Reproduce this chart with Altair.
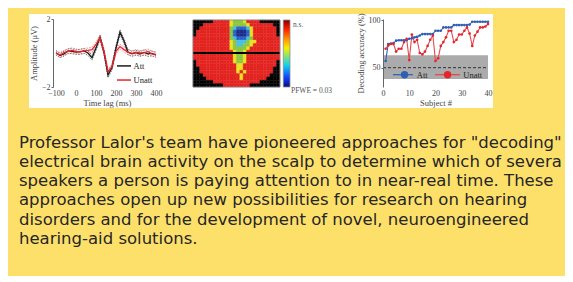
import altair as alt
import pandas as pd

# ------------------------------------------------------------------ data
# Panel 1: ERP (temporal response function) for attended / unattended speech
time_ms = [-100, -80, -60, -40, -20, 0, 20, 40, 60, 80, 100, 120, 140, 160,
           180, 200, 220, 240, 260, 280, 300, 320, 340, 360, 380, 400]
time_ticks = [-100, 0, 100, 200, 300, 400]
att_mean = [0.02, -0.15, -0.05, 0.12, 0.10, 0.05, 0.08, 0.12, 0.00, -0.28, 0.30, 0.92, 0.05,
            -1.30, -0.85, 0.30, 1.22, 0.70, 0.05, -0.05, 0.02, -0.06, 0.03, -0.05, -0.02, -0.12]
att_upper = [0.14, -0.02, 0.10, 0.25, 0.24, 0.18, 0.22, 0.26, 0.14, -0.14, 0.45, 1.06, 0.20,
             -1.15, -0.70, 0.45, 1.36, 0.85, 0.20, 0.10, 0.16, 0.08, 0.18, 0.10, 0.12, 0.02]
att_lower = [-0.10, -0.28, -0.18, -0.02, -0.04, -0.08, -0.06, -0.02, -0.14, -0.42, 0.15, 0.78, -0.10,
             -1.45, -1.00, 0.15, 1.08, 0.55, -0.10, -0.20, -0.12, -0.20, -0.12, -0.20, -0.16, -0.26]
unatt_mean = [0.00, -0.12, 0.02, 0.10, 0.15, 0.10, 0.05, 0.12, 0.15, 0.20, 0.50, 0.90, 0.10,
              -1.10, -0.80, 0.10, 0.38, 0.20, 0.05, -0.02, 0.05, 0.00, 0.02, 0.08, -0.05, -0.08]
unatt_upper = [0.13, 0.02, 0.16, 0.24, 0.30, 0.24, 0.19, 0.27, 0.29, 0.34, 0.64, 1.04, 0.25,
               -0.96, -0.66, 0.25, 0.52, 0.35, 0.20, 0.13, 0.20, 0.14, 0.17, 0.24, 0.10, 0.06]
unatt_lower = [-0.13, -0.26, -0.12, -0.04, 0.01, -0.04, -0.09, -0.03, 0.01, 0.06, 0.36, 0.76, -0.05,
               -1.24, -0.94, -0.05, 0.24, 0.05, -0.10, -0.17, -0.10, -0.14, -0.13, -0.08, -0.20, -0.22]
conditions = ["Att", "Unatt"]

# Panel 2: scalp topography (level codes per cell, '.' = outside the head map)
topo_rows = [
    "......RRRRRYGGGYRRRR......",
    "...RRRRRRRRYGGGGYRRRRRRR..",
    "..RRRRRRRRRGCBBBCYRRRRRRR.",
    ".RRRRRRRRRRGBDDDBYRRRRRRR.",
    ".RRRRRRRRRRGBDDDBYRRRRRRR.",
    "RRRRRRRRRRRGCBBBCGRRRRRRRR",
    "RRRRRRRRRRRYGCCCGYYRRRRRRR",
    "RRRRRRRRRRRYGCCGGYRRRRRRRR",
    "RRRRRRRRRRRYGGGGYRRRRRRRRR",
    "RRRRRRRRRRRRYGGYRRRRRRRRRR",
    "RRRRRRRRRRRRYGGYRRRRRRRRRR",
    "RRRRRRRRRRRRYGGYRRRRRRRRRR",
    ".RRRRRRRRRRRYGGYRRRRRRRRR.",
    ".RRRRRRRRRRRRYYRRRRRRRRRR.",
    "..RRRRRRRRRRRYYRRRRRRRRR..",
    "..RRRRRRRRRRRYRYRRRRRRRR..",
    "...RRRRRRRRRRRYRRRRRRRR...",
    "....RRRRRRRRRRYRRRRRRR....",
    "......RRRRRRRRRRRRRR......",
    ".........RRRRRRRR.........",
]
topo_levels = [".", "R", "Y", "G", "C", "B", "D"]
hemisphere_split = [9.85]
colorbar_labels = ["n.s.", "PFWE = 0.03"]

# Panel 3: decoding accuracy per subject
subjects = list(range(1, 41))
att_acc = [57, 75, 75.5, 76, 78.5, 79, 79, 79, 79, 80.5, 81, 82, 82.5, 84, 85.5, 85.5, 85.5,
           85.5, 85.5, 89, 89, 89, 92.5, 92.5, 92.5, 92.5, 95, 95, 95, 95, 95, 95, 95.5,
           98.5, 98.5, 98.5, 98.5, 98.5, 98.5, 98.5]
unatt_acc = [70, 73.5, 75, 75, 67, 70, 70, 77, 80.5, 58, 85, 77, 79.5, 65.5, 64, 67, 73, 79.5,
             84, 57, 60, 73, 77, 82, 89, 89, 77, 79.5, 85, 85, 89, 92.5, 86, 73, 84, 88,
             92.5, 92.5, 93.5, 96]
chance_band = [38, 63]
chance_level = [50]
acc_ticks = [50, 100]
subject_ticks = [0, 10, 20, 30, 40]

# Paragraph
paragraph_lines = [
    "Professor Lalor's team have pioneered approaches for \"decoding\"",
    "electrical brain activity on the scalp to determine which of several",
    "speakers a person is paying attention to in near-real time. These",
    "approaches open up new possibilities for research on hearing",
    "disorders and for the development of novel, neuroengineered",
    "hearing-aid solutions.",
]

# ------------------------------------------------------------------ styles / legend layout
YELLOW = "#FDE06A"
SERIF = "Liberation Serif"
AXC = "#444444"
# legend placement inside each panel (in that panel's data units)
ERP_LEGEND = {"x0": 205, "x1": 275, "xt": 288, "y": {"Att": -0.76, "Unatt": -1.59}}
ACC_LEGEND = {"y": 42.6,
              "Att": {"x0": 3.8, "x1": 11.4, "xc": 8.2, "xt": 12.9},
              "Unatt": {"x0": 19.8, "x1": 29.3, "xc": 24.6, "xt": 30.6}}

# ------------------------------------------------------------------ panel 1
erp_records = []
for cond, m_, u_, l_ in [("Att", att_mean, att_upper, att_lower),
                         ("Unatt", unatt_mean, unatt_upper, unatt_lower)]:
    for t, m, u, l in zip(time_ms, m_, u_, l_):
        erp_records.append({"t": t, "cond": cond, "kind": "mean", "v": m})
        erp_records.append({"t": t, "cond": cond, "kind": "upper", "v": u})
        erp_records.append({"t": t, "cond": cond, "kind": "lower", "v": l})
erp_df = pd.DataFrame(erp_records)

erp_color = alt.Scale(domain=conditions, range=["#1b1b1b", "#e8242b"])
erp_ci_color = alt.Scale(domain=conditions, range=["#4a4a4a", "#ef6a6e"])
erp_x_scale = alt.Scale(domain=[-115, 425], nice=False, zero=False)
erp_y_scale = alt.Scale(domain=[-2, 2], nice=False, zero=False)
erp_x_axis = alt.Axis(values=time_ticks, title="Time lag (ms)", domain=False, ticks=False,
                      grid=False, labelFont=SERIF, labelFontSize=8, labelColor=AXC,
                      labelPadding=2, labelFlush=False, labelOverlap=False, titleFont=SERIF,
                      titleFontSize=8.5, titleFontWeight="normal", titleColor=AXC,
                      titlePadding=1, zindex=1)
erp_y_axis = alt.Axis(values=[-2, 2], title="Amplitude (μV)", domainColor="#666", grid=False,
                      tickColor="#666", tickSize=2, labelFont=SERIF, labelFontSize=8,
                      labelColor=AXC, labelPadding=1, labelFlush=False,
                      titleFont=SERIF, titleFontSize=8.5, titleFontWeight="normal",
                      titleColor=AXC, titlePadding=3, zindex=1)
x_erp = alt.X("t:Q", scale=erp_x_scale, axis=erp_x_axis)
y_erp = alt.Y("v:Q", scale=erp_y_scale, axis=erp_y_axis)

panel_bg = alt.Chart(alt.Data(values=[{}])).mark_rect(color="white").encode(
    x=alt.value(-24), x2=alt.value(440), y=alt.value(-5), y2=alt.value(89))

erp_ci = alt.Chart(erp_df).transform_filter("datum.kind != 'mean'").mark_line(
    strokeWidth=0.8, strokeDash=[1.5, 1.2]).encode(
    x=x_erp, y=y_erp, detail="kind:N",
    stroke=alt.Stroke("cond:N", scale=erp_ci_color, legend=None))

erp_main = alt.Chart(erp_df).transform_filter("datum.kind == 'mean'").mark_line(
    strokeWidth=1.3).encode(
    x=x_erp, y=y_erp, color=alt.Color("cond:N", scale=erp_color, legend=None))

erp_leg_df = pd.DataFrame({"cond": conditions,
                           "x0": [ERP_LEGEND["x0"]] * 2, "x1": [ERP_LEGEND["x1"]] * 2,
                           "xt": [ERP_LEGEND["xt"]] * 2,
                           "y": [ERP_LEGEND["y"][c] for c in conditions]})
erp_leg_line = alt.Chart(erp_leg_df).mark_rule(strokeWidth=1.5).encode(
    x=alt.X("x0:Q", scale=erp_x_scale, axis=erp_x_axis), x2="x1:Q",
    y=alt.Y("y:Q", scale=erp_y_scale, axis=erp_y_axis),
    color=alt.Color("cond:N", scale=erp_color, legend=None))
erp_leg_text = alt.Chart(erp_leg_df).mark_text(
    align="left", baseline="middle", font=SERIF, fontSize=8.5, color="#222").encode(
    x=alt.X("xt:Q", scale=erp_x_scale, axis=erp_x_axis),
    y=alt.Y("y:Q", scale=erp_y_scale, axis=erp_y_axis), text="cond:N")

p1 = alt.layer(panel_bg, erp_ci, erp_main, erp_leg_line, erp_leg_text).properties(
    width=108, height=68)

# ------------------------------------------------------------------ panel 2
n_rows = len(topo_rows)
n_cols = len(topo_rows[0])
topo_records = []
for r, row in enumerate(topo_rows):
    for c, ch in enumerate(row):
        topo_records.append({"col": c, "row": r, "level": ch})
topo_df = pd.DataFrame(topo_records)

topo_scale = alt.Scale(domain=topo_levels,
                       range=["#000000", "#E3231F", "#E9E21E", "#8CC63E", "#45BFE0",
                              "#2A62C8", "#1B2C8C"])
x2_scale = alt.Scale(domain=[0, 47.25], nice=False, zero=False)
y2_scale = alt.Scale(domain=[-0.3, 20], nice=False, zero=False, reverse=True)

topo = alt.Chart(topo_df).transform_calculate(
    col2="datum.col + 1", row2="datum.row + 1").mark_rect(strokeWidth=0.4).encode(
    x=alt.X("col:Q", scale=x2_scale, axis=None), x2="col2:Q",
    y=alt.Y("row:Q", scale=y2_scale, axis=None), y2="row2:Q",
    color=alt.Color("level:N", scale=topo_scale, legend=None),
    stroke=alt.Stroke("level:N", scale=topo_scale, legend=None))

split = alt.Chart(pd.DataFrame({"y": hemisphere_split, "x0": [0], "x1": [n_cols]})).mark_rule(
    color="#000000", strokeWidth=1.8).encode(
    x=alt.X("x0:Q", scale=x2_scale, axis=None), x2="x1:Q",
    y=alt.Y("y:Q", scale=y2_scale, axis=None))

frame = alt.Chart(pd.DataFrame({"x0": [0], "x1": [n_cols], "y0": [0], "y1": [n_rows]})).mark_rect(
    fill=None, stroke="#8a8a8a", strokeWidth=0.8).encode(
    x=alt.X("x0:Q", scale=x2_scale, axis=None), x2="x1:Q",
    y=alt.Y("y0:Q", scale=y2_scale, axis=None), y2="y1:Q")

jet = alt.Gradient(gradient="linear", x1=0, x2=0, y1=0, y2=1, stops=[
    alt.GradientStop(color="#7f0000", offset=0),
    alt.GradientStop(color="#ff1a00", offset=0.13),
    alt.GradientStop(color="#ffa000", offset=0.3),
    alt.GradientStop(color="#f5f000", offset=0.42),
    alt.GradientStop(color="#7fe07f", offset=0.55),
    alt.GradientStop(color="#10d0f0", offset=0.68),
    alt.GradientStop(color="#1040ff", offset=0.86),
    alt.GradientStop(color="#0a0a80", offset=1)])

cbar = alt.Chart(pd.DataFrame({"x0": [27], "x1": [29], "y0": [0], "y1": [n_rows]})).mark_rect(
    fill=jet, stroke="#8a8a8a", strokeWidth=0.8).encode(
    x=alt.X("x0:Q", scale=x2_scale, axis=None), x2="x1:Q",
    y=alt.Y("y0:Q", scale=y2_scale, axis=None), y2="y1:Q")

cbar_text = alt.Chart(pd.DataFrame({"label": colorbar_labels, "x": [29.9, 29.3],
                                    "y": [1.4, 21.3]})).mark_text(
    align="left", baseline="middle", font=SERIF, fontSize=7.5, color="#555555").encode(
    x=alt.X("x:Q", scale=x2_scale, axis=None),
    y=alt.Y("y:Q", scale=y2_scale, axis=None), text="label:N")

p2 = alt.layer(topo, split, frame, cbar, cbar_text).properties(width=158, height=68)

# ------------------------------------------------------------------ panel 3
acc_df = pd.DataFrame({
    "subject": subjects + subjects,
    "acc": att_acc + unatt_acc,
    "group": ["Att"] * len(subjects) + ["Unatt"] * len(subjects),
})
acc_color = alt.Scale(domain=conditions, range=["#2f5fb5", "#e3262c"])
acc_line_color = alt.Scale(domain=conditions, range=["#3563b8", "#e4484d"])
acc_x_scale = alt.Scale(domain=[0, 40], nice=False, zero=False)
acc_y_scale = alt.Scale(domain=[29.6, 101.4], nice=False, zero=False)
acc_x_axis = alt.Axis(values=subject_ticks, title="Subject #", domain=False, ticks=False,
                      grid=False, labelFont=SERIF, labelFontSize=8, labelColor=AXC,
                      labelPadding=2, labelFlush=False, labelOverlap=False, titleFont=SERIF,
                      titleFontSize=8.5, titleFontWeight="normal", titleColor=AXC,
                      titlePadding=1, zindex=1)
acc_y_axis = alt.Axis(values=acc_ticks, title="Decoding accuracy (%)", domainColor="#666",
                      grid=False, tickColor="#666", tickSize=2, labelFont=SERIF,
                      labelFontSize=8, labelColor=AXC, labelPadding=1, labelFlush=False,
                      titleFont=SERIF, titleFontSize=8.5, titleFontWeight="normal",
                      titleColor=AXC, titlePadding=3, zindex=1)

band = alt.Chart(pd.DataFrame({"lo": [chance_band[0]], "hi": [chance_band[1]],
                               "s0": [subject_ticks[0]], "s1": [subject_ticks[-1]]})).mark_rect(
    color="#ababab").encode(
    x=alt.X("s0:Q", scale=acc_x_scale, axis=acc_x_axis), x2="s1:Q",
    y=alt.Y("lo:Q", scale=acc_y_scale, axis=acc_y_axis), y2="hi:Q")

chance = alt.Chart(pd.DataFrame({"c": chance_level, "s0": [subject_ticks[0]],
                                 "s1": [subject_ticks[-1]]})).mark_rule(
    color="#222222", strokeWidth=0.9, strokeDash=[3, 2]).encode(
    x=alt.X("s0:Q", scale=acc_x_scale, axis=acc_x_axis), x2="s1:Q",
    y=alt.Y("c:Q", scale=acc_y_scale, axis=acc_y_axis))

acc_lines = alt.Chart(acc_df).mark_line(strokeWidth=1.1).encode(
    x=alt.X("subject:Q", scale=acc_x_scale, axis=acc_x_axis),
    y=alt.Y("acc:Q", scale=acc_y_scale, axis=acc_y_axis),
    stroke=alt.Stroke("group:N", scale=acc_line_color, legend=None))

acc_pts = alt.Chart(acc_df).mark_point(filled=True, size=7, opacity=1).encode(
    x=alt.X("subject:Q", scale=acc_x_scale, axis=acc_x_axis),
    y=alt.Y("acc:Q", scale=acc_y_scale, axis=acc_y_axis),
    color=alt.Color("group:N", scale=acc_color, legend=None))

acc_leg_df = pd.DataFrame({"group": conditions,
                           "x0": [ACC_LEGEND[c]["x0"] for c in conditions],
                           "x1": [ACC_LEGEND[c]["x1"] for c in conditions],
                           "xc": [ACC_LEGEND[c]["xc"] for c in conditions],
                           "xt": [ACC_LEGEND[c]["xt"] for c in conditions],
                           "y": [ACC_LEGEND["y"]] * 2})
acc_leg_line = alt.Chart(acc_leg_df).mark_rule(strokeWidth=1.3).encode(
    x=alt.X("x0:Q", scale=acc_x_scale, axis=acc_x_axis), x2="x1:Q",
    y=alt.Y("y:Q", scale=acc_y_scale, axis=acc_y_axis),
    stroke=alt.Stroke("group:N", scale=acc_line_color, legend=None))
acc_leg_dot = alt.Chart(acc_leg_df).mark_circle(size=55, opacity=1).encode(
    x=alt.X("xc:Q", scale=acc_x_scale, axis=acc_x_axis),
    y=alt.Y("y:Q", scale=acc_y_scale, axis=acc_y_axis),
    color=alt.Color("group:N", scale=acc_color, legend=None))
acc_leg_text = alt.Chart(acc_leg_df).mark_text(
    align="left", baseline="middle", font=SERIF, fontSize=8.5, color="#222").encode(
    x=alt.X("xt:Q", scale=acc_x_scale, axis=acc_x_axis),
    y=alt.Y("y:Q", scale=acc_y_scale, axis=acc_y_axis), text="group:N")

p3 = alt.layer(band, chance, acc_lines, acc_pts, acc_leg_line, acc_leg_dot,
               acc_leg_text).properties(width=105, height=68)

# ------------------------------------------------------------------ paragraph
text_df = pd.DataFrame({"line": list(range(len(paragraph_lines))), "text": paragraph_lines})
text_chart = alt.Chart(text_df).mark_text(
    align="left", baseline="alphabetic", font="DejaVu Sans", fontSize=16.5, color="#262626",
    limit=546, ellipsis="\u200b").encode(
    x=alt.value(-34),
    y=alt.Y("line:Q", scale=alt.Scale(domain=[-1, 6], reverse=True, nice=False, zero=False),
            axis=None),
    text="text:N").properties(width=512, height=134.4)

# ------------------------------------------------------------------ assemble
row = alt.hconcat(p1, p2, p3, spacing=32, bounds="flush").resolve_scale(
    color="independent", stroke="independent")

chart = alt.vconcat(row, text_chart, spacing=20.5).properties(
    background=YELLOW,
    padding={"left": 11, "top": 4, "right": 0, "bottom": 13},
).configure_view(stroke=None)

chart.save("out.html", embed_options={"renderer": "svg", "actions": False})
